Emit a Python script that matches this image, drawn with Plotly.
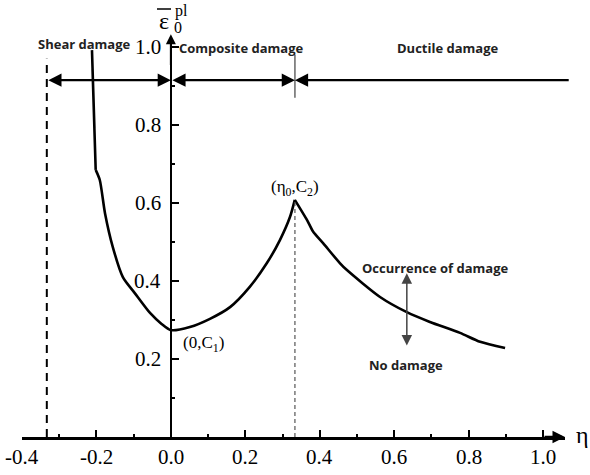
import plotly.graph_objects as go

# Curve data (eta, equivalent plastic strain at damage onset)
eta = [-0.212, -0.202, -0.191, -0.177, -0.156, -0.129, -0.097, -0.056, -0.025, 0.0,
       0.051, 0.105, 0.159, 0.212, 0.258, 0.293, 0.320, 0.333,
       0.366, 0.382, 0.409, 0.454, 0.473, 0.562, 0.634, 0.696, 0.777, 0.831, 0.898]
eps = [0.992, 0.685, 0.659, 0.574, 0.487, 0.410, 0.369, 0.318, 0.290, 0.274,
       0.282, 0.303, 0.333, 0.385, 0.446, 0.505, 0.564, 0.608,
       0.556, 0.527, 0.497, 0.446, 0.428, 0.359, 0.320, 0.295, 0.267, 0.244, 0.228]

x_ticks = [-0.4, -0.2, 0.0, 0.2, 0.4, 0.6, 0.8, 1.0]
x_tick_text = ["-0.4", "-0.2", "0.0", "0.2", "0.4", "0.6", "0.8", "1.0"]
y_ticks = [0.2, 0.4, 0.6, 0.8, 1.0]
y_tick_text = ["0.2", "0.4", "0.6", "0.8", "1.0"]

eta_shear = -1/3      # boundary of shear damage zone
eta_0 = 1/3           # peak location
c2 = 0.608
zone_y = 0.915        # height of zone arrows
x_max = 1.059
y_max = 1.0205

SERIF = "Liberation Serif"
SANS = "Open Sans"

fig = go.Figure()
fig.add_trace(go.Scatter(x=eta[:2], y=eps[:2], mode="lines",
                         line=dict(color="black", width=2.6),
                         hoverinfo="skip", showlegend=False, cliponaxis=False))
fig.add_trace(go.Scatter(x=eta[1:18], y=eps[1:18], mode="lines",
                         line=dict(color="black", width=2.6, shape="spline", smoothing=0.7),
                         hoverinfo="skip", showlegend=False, cliponaxis=False))
fig.add_trace(go.Scatter(x=eta[17:], y=eps[17:], mode="lines",
                         line=dict(color="black", width=2.6, shape="spline", smoothing=0.7),
                         hoverinfo="skip", showlegend=False, cliponaxis=False))

y_pos = (0 + 0.4) / (x_max + 0.4)
fig.update_layout(
    width=590, height=475,
    margin=dict(l=22, r=25, t=39, b=38),
    paper_bgcolor="white", plot_bgcolor="white",
    font=dict(family=SERIF, color="black"),
    showlegend=False,
    xaxis=dict(range=[-0.4, x_max], showgrid=False, zeroline=False,
               showline=True, linecolor="black", linewidth=2.5,
               ticks="inside", ticklen=7, tickwidth=2, tickcolor="black",
               tickvals=x_ticks, showticklabels=False,
               minor=dict(ticks="inside", ticklen=3, tickwidth=2, tickcolor="black",
                          tick0=-0.4, dtick=0.1),
               fixedrange=True),
    yaxis=dict(range=[0, y_max], showgrid=False, zeroline=False,
               anchor="free", position=y_pos,
               showline=True, linecolor="black", linewidth=2,
               ticks="inside", ticklen=7, tickwidth=2, tickcolor="black",
               tickvals=y_ticks, showticklabels=False,
               minor=dict(ticks="inside", ticklen=3, tickwidth=2, tickcolor="black",
                          tick0=0, dtick=0.1),
               fixedrange=True),
)

# Tick labels (serif, placed at the axis tick values)
for v, t in zip(x_ticks, x_tick_text):
    fig.add_annotation(x=v, y=-20 / 398, xref="x", yref="paper", text=t, showarrow=False,
                       font=dict(family=SERIF, size=21, color="black"),
                       xanchor="center", yanchor="middle")
for v, t in zip(y_ticks, y_tick_text):
    fig.add_annotation(x=y_pos - 8 / 543, y=v, xref="paper", yref="y", text=t, showarrow=False,
                       font=dict(family=SERIF, size=21, color="black"),
                       xanchor="right", yanchor="middle")

# Reference lines
fig.add_shape(type="line", x0=eta_shear, x1=eta_shear, y0=0, y1=0.97,
              line=dict(color="black", width=2, dash="8px,6px"))
fig.add_shape(type="line", x0=eta_0, x1=eta_0, y0=0, y1=c2,
              line=dict(color="#555555", width=1.2, dash="4px,3px"))
fig.add_shape(type="line", x0=eta_0, x1=eta_0, y0=0.87, y1=0.98,
              line=dict(color="#666666", width=1.5))

def arrow(x_tip, y_tip, x_tail, y_tail, side="end", color="black", width=2, size=1.0, head=2):
    fig.add_annotation(x=x_tip, y=y_tip, ax=x_tail, ay=y_tail, xref="x", yref="y",
                       axref="x", ayref="y", text="", showarrow=True,
                       arrowhead=head, arrowsize=size, arrowwidth=width,
                       arrowcolor=color, arrowside=side, standoff=0, startstandoff=0)

# Axis arrowheads
arrow(x_max, 0, 1.0, 0, width=2.5, size=1.0)
arrow(0, y_max + 0.012, 0, 0.95, width=2, size=1.0)

# Zone arrows
arrow(0, zone_y, eta_shear, zone_y, side="end+start", width=2.2, size=1.2)
arrow(eta_0, zone_y, 0, zone_y, side="end+start", width=2.2, size=1.2)
arrow(eta_0, zone_y, 1.073, zone_y, side="end", width=2.2, size=1.2)

# Damage / no damage arrow
arrow(0.634, 0.42, 0.634, 0.231, side="end+start", color="#444444", width=1.5, size=1.4)

def label(text, x, y, size=13, family=SANS, color="#222222", xref="x", yref="y", bold=True):
    t = f"<b>{text}</b>" if bold else text
    fig.add_annotation(x=x, y=y, xref=xref, yref=yref, text=t, showarrow=False,
                       font=dict(family=family, size=size, color=color),
                       xanchor="center", yanchor="middle")

label("Shear damage", -0.231, 1.008)
label("Composite damage", 0.191, 0.997)
label("Ductile damage", 0.745, 0.997)
label("Occurrence of damage", 0.71, 0.433)
label("No damage", 0.632, 0.185)

label("(η<sub>0</sub>,C<sub>2</sub>)", 0.333, 0.638, size=17, family=SERIF, color="black", bold=False)
label("(0,C<sub>1</sub>)", 0.089, 0.238, size=17, family=SERIF, color="black", bold=False)

# Axis titles
label("η", (582 - 22) / 543, 0.005, size=24, family=SERIF, color="black", xref="paper", bold=False)
label("ε", (164 - 22) / 543, (437 - 21) / 398, size=24, family=SERIF, color="black",
      xref="paper", yref="paper", bold=False)
fig.add_shape(type="line", xref="paper", yref="paper",
              x0=(157 - 22) / 543, x1=(171 - 22) / 543,
              y0=(437 - 9) / 398, y1=(437 - 9) / 398,
              line=dict(color="black", width=1.5))
label("pl", (181 - 22) / 543, (437 - 11) / 398, size=16, family=SERIF, color="black",
      xref="paper", yref="paper", bold=False)
label("0", (178 - 22) / 543, (437 - 27) / 398, size=16, family=SERIF, color="black",
      xref="paper", yref="paper", bold=False)

fig.write_html("out.html")
